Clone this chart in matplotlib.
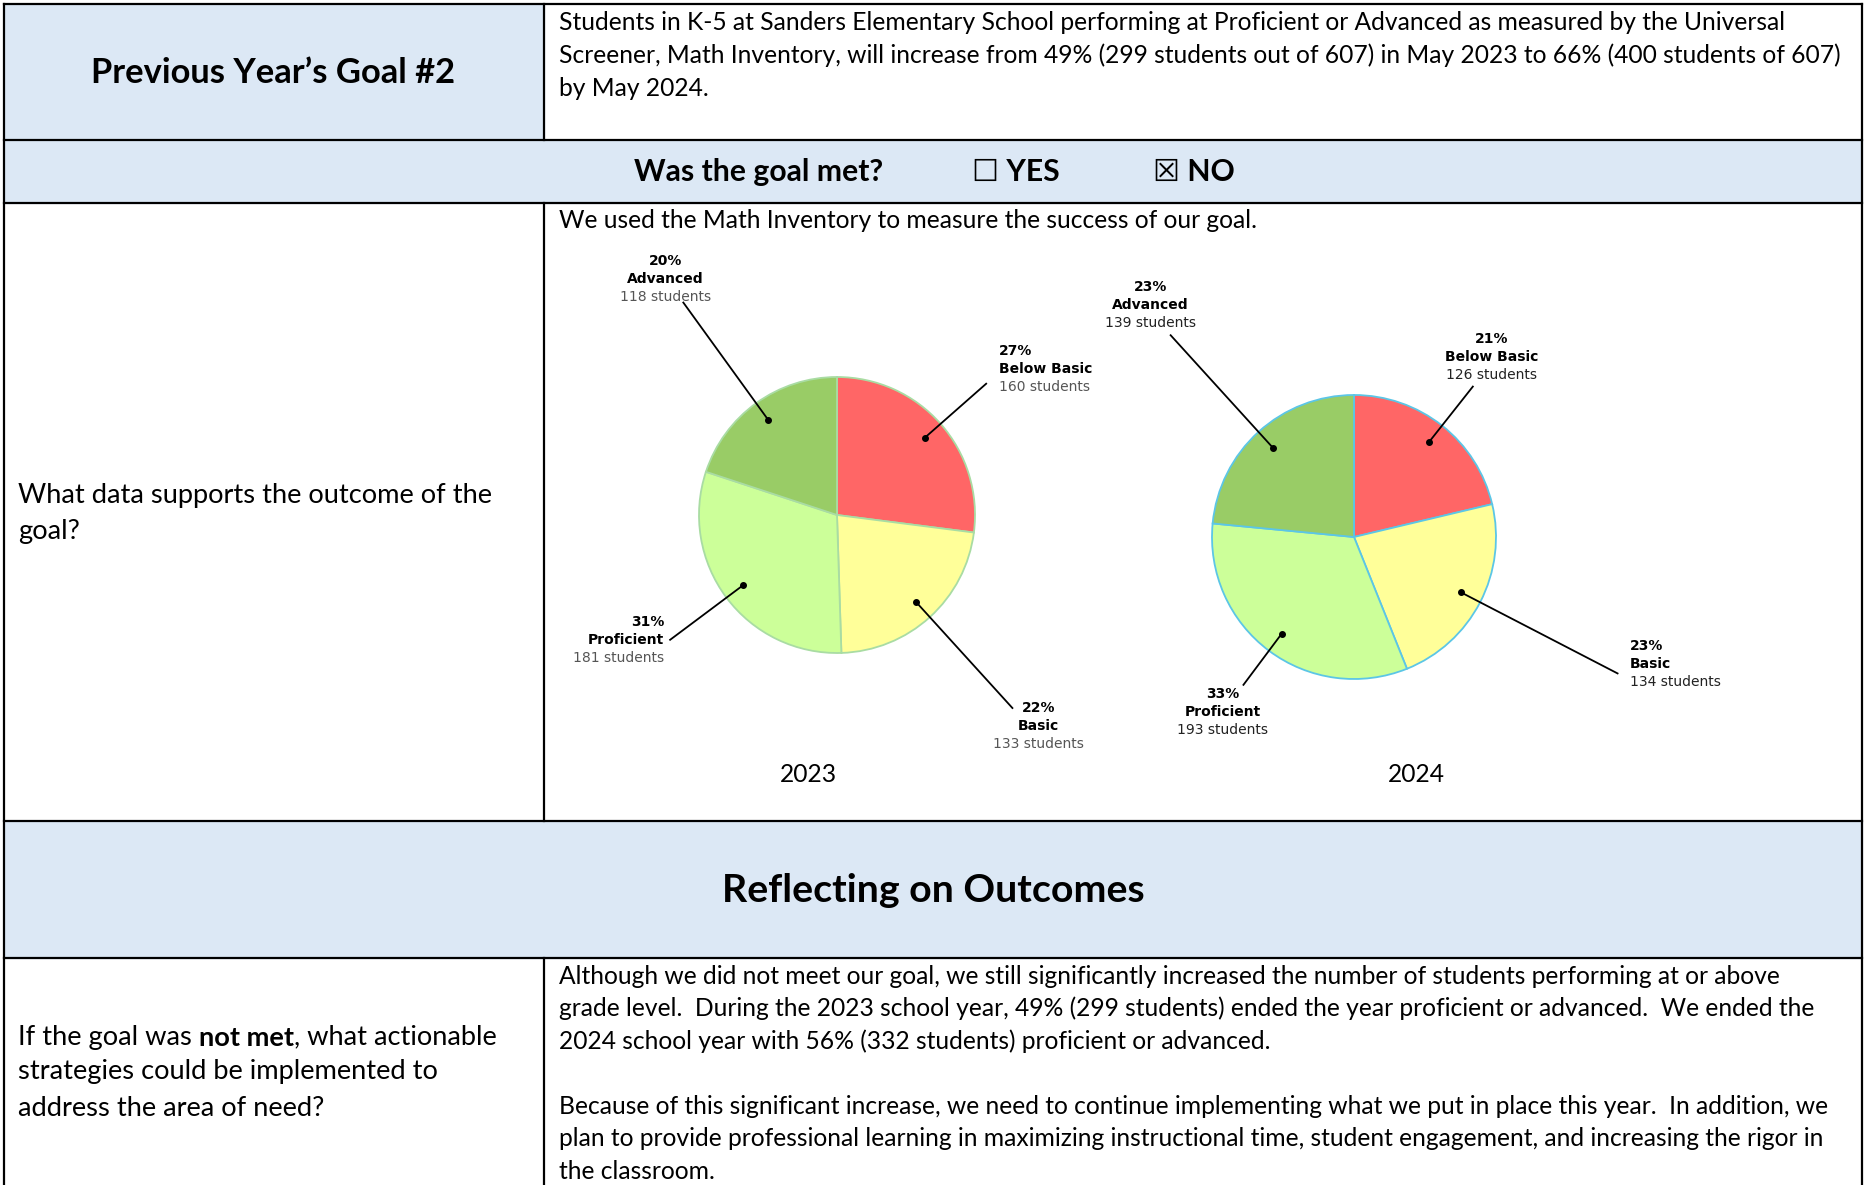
import matplotlib.pyplot as plt
import numpy as np
from matplotlib.patches import Rectangle

W, H = 1864, 1185

# data
categories = ["Below Basic", "Basic", "Proficient", "Advanced"]
colors = ["#ff6666", "#ffff99", "#ccff99", "#99cc66"]
years = ["2023", "2024"]
students_2023 = [160, 133, 181, 118]
students_2024 = [126, 134, 193, 139]
pct_2023 = [27, 22, 31, 20]
pct_2024 = [21, 23, 33, 23]

goal_lines = [
    "Students in K-5 at Sanders Elementary School performing at Proficient or Advanced as measured by the Universal",
    "Screener, Math Inventory, will increase from 49% (299 students out of 607) in May 2023 to 66% (400 students of 607)",
    "by May 2024.",
]
reflect_lines = [
    "Although we did not meet our goal, we still significantly increased the number of students performing at or above",
    "grade level.  During the 2023 school year, 49% (299 students) ended the year proficient or advanced.  We ended the",
    "2024 school year with 56% (332 students) proficient or advanced.",
    "",
    "Because of this significant increase, we need to continue implementing what we put in place this year.  In addition, we",
    "plan to provide professional learning in maximizing instructional time, student engagement, and increasing the rigor in",
    "the classroom.",
]

plt.rcParams["font.family"] = ["Lato", "DejaVu Sans"]
BODY = 17.7
LEFT = 19.6
SHADE = "#dce8f5"

fig = plt.figure(figsize=(W / 100, H / 100), dpi=100)
ax = fig.add_axes([0, 0, 1, 1])

# table layout
x0, xd, x1 = 4, 544, 1862
rows = [4, 140, 203, 821, 958]
ax.add_patch(Rectangle((x0, rows[0]), xd - x0, rows[1] - rows[0], color=SHADE, zorder=0))
ax.add_patch(Rectangle((x0, rows[1]), x1 - x0, rows[2] - rows[1], color=SHADE, zorder=0))
ax.add_patch(Rectangle((x0, rows[3]), x1 - x0, rows[4] - rows[3], color=SHADE, zorder=0))
for y in rows:
    ax.plot([x0, x1], [y, y], color="black", lw=1.6, solid_capstyle="projecting")
for x in (x0, x1):
    ax.plot([x, x], [rows[0], H], color="black", lw=1.6)
for ya, yb in ((rows[0], rows[1]), (rows[2], rows[3]), (rows[4], H)):
    ax.plot([xd, xd], [ya, yb], color="black", lw=1.6)

# row 1
ax.text(273, 73, "Previous Year\u2019s Goal #2", fontsize=24.8, fontweight="bold", ha="center", va="center")
for i, s in enumerate(goal_lines):
    ax.text(559, 23 + i * 32.7, s, fontsize=BODY, va="center")

# row 2
ax.text(759, 172, "Was the goal met?", fontsize=21.7, fontweight="bold", ha="center", va="center")
ax.text(972, 172, "\u2610 YES", fontsize=21.7, fontweight="bold", va="center")
ax.text(1153, 172, "\u2612 NO", fontsize=21.7, fontweight="bold", va="center")

# row 3
ax.text(559, 221, "We used the Math Inventory to measure the success of our goal.", fontsize=BODY, va="center")
ax.text(18, 496, "What data supports the outcome of the", fontsize=LEFT, va="center")
ax.text(18, 531, "goal?", fontsize=LEFT, va="center")


def draw_pie(cx, cy, r, counts, pcts, edge, ends, spots, count_color):
    ax.pie(counts, colors=colors, startangle=-90, counterclock=True, center=(cx, cy),
           radius=r, frame=True, wedgeprops=dict(edgecolor=edge, linewidth=1.3))
    frac = np.cumsum([0] + counts) / sum(counts)
    mids = np.radians(90 - 360 * (frac[:-1] + frac[1:]) / 2)
    for i, th in enumerate(mids):
        u = np.array([np.cos(th), -np.sin(th)])
        p0 = np.array([cx, cy]) + 0.85 * r * u
        p1 = np.array([cx, cy]) + ends[i] * r * u
        ax.plot([p0[0], p1[0]], [p0[1], p1[1]], color="black", lw=1.3)
        ax.plot(p0[0], p0[1], "o", color="black", ms=4)
        ha, dx, dy = spots[i]
        bx, by = p1[0] + dx, p1[1] + dy
        kw = dict(ha=ha, va="center", fontsize=10, family="DejaVu Sans")
        ax.text(bx, by - 18, f"{pcts[i]}%", fontweight="bold", **kw)
        ax.text(bx, by, categories[i], fontweight="bold", **kw)
        ax.text(bx, by + 18, f"{counts[i]} students", color=count_color, **kw)


draw_pie(837, 515, 138, students_2023, pct_2023, "#a9dca3",
         [1.44, 1.89, 1.51, 1.90],
         [("left", 13, -15), ("center", 26, 18), ("right", -6, 0), ("center", -18, -24)],
         "#555555")
draw_pie(1354, 537, 142, students_2024, pct_2024, "#5cc6e6",
         [1.35, 2.09, 1.30, 1.92],
         [("center", 19, -30), ("left", 12, -9), ("center", -21, 27), ("center", -20, -30)],
         "#222222")

ax.text(808, 774, years[0], fontsize=BODY, ha="center", va="center")
ax.text(1416, 774, years[1], fontsize=BODY, ha="center", va="center")

# row 4
ax.text(933, 890, "Reflecting on Outcomes", fontsize=28.3, fontweight="bold", ha="center", va="center")

# row 5
t1 = ax.text(18, 1037, "If the goal was ", fontsize=LEFT, va="center")
t2 = ax.annotate("not met", xy=(1, 0), xycoords=t1, va="bottom", fontsize=LEFT, fontweight="bold")
ax.annotate(", what actionable", xy=(1, 0), xycoords=t2, va="bottom", fontsize=LEFT)
ax.text(18, 1072, "strategies could be implemented to", fontsize=LEFT, va="center")
ax.text(18, 1108, "address the area of need?", fontsize=LEFT, va="center")
for i, s in enumerate(reflect_lines):
    if s:
        ax.text(559, 976 + i * 32.6, s, fontsize=BODY, va="center")

ax.set_xlim(0, W)
ax.set_ylim(H, 0)
ax.axis("off")
fig.savefig("out.png", dpi=100)
